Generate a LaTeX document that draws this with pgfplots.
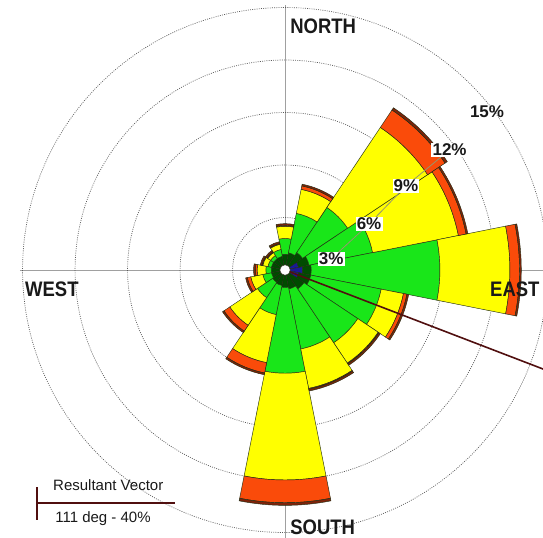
\documentclass[border=0pt]{standalone}
\usepackage{pgfplots}
\pgfplotsset{compat=1.18}
\usepackage{pgfplotstable}
\usepackage{graphicx}
\usepackage{fontspec}
\setmainfont{Liberation Sans}

% speed-class colours
\definecolor{wrBlue}{RGB}{25,25,150}
\definecolor{wrDkGreen}{RGB}{0,75,0}
\definecolor{wrGreen}{RGB}{25,230,25}
\definecolor{wrYellow}{RGB}{255,255,0}
\definecolor{wrOrange}{RGB}{250,75,10}
\definecolor{wrDkRed}{RGB}{125,35,10}
\definecolor{wrEdge}{RGB}{35,45,20}
\definecolor{wrVector}{RGB}{80,15,15}
\definecolor{wrRing}{RGB}{90,90,90}
\definecolor{wrCross}{RGB}{160,160,160}
\definecolor{wrText}{RGB}{25,25,25}

% one percent of frequency on the plot
\newcommand\pu{17.5bp}

% cumulative frequency (%) reached by each speed class, per direction
\pgfplotstableread{
dir    calm  blue  dkgreen green yellow orange dkred
0      0.30  0.30  0.90   1.80  2.50   2.55   2.65
22.5   0.30  0.30  1.00   3.30  4.70   4.90   5.00
45     0.30  0.30  1.20   4.30  9.80   11.00  11.15
67.5   0.30  0.80  1.40   5.10  10.10  10.55  10.65
90     0.30  1.00  1.50   8.85  12.85  13.40  13.50
112.5  0.30  0.80  1.50   5.60  6.90   7.10   7.20
135    0.30  0.30  1.30   5.00  6.40   6.45   6.55
157.5  0.30  0.30  1.10   4.60  6.90   6.95   7.05
180    0.30  0.30  1.00   5.90  12.00  13.30  13.45
202.5  0.30  0.30  0.90   2.60  5.40   6.00   6.10
225    0.30  0.30  0.85   1.90  3.80   4.20   4.30
247.5  0.30  0.30  0.80   1.30  2.00   2.20   2.30
270    0.30  0.30  0.80   1.10  1.60   1.70   1.80
292.5  0.30  0.30  0.80   1.00  1.30   1.35   1.45
315    0.30  0.30  0.80   1.00  1.20   1.25   1.35
337.5  0.30  0.30  0.80   1.20  1.50   1.55   1.65
}\rosedata

% one speed class: the point sits at the outer end of each petal; the
% marker draws the 22.5 deg annular sector from the class below (#1)
% out to this class (#2), filled with #3 (corners relative to the point)
\pgfplotsset{
  band/.style n args={3}{
    scatter, only marks,
    mark=*, mark size=0pt,
    mark options={draw opacity=0, fill opacity=0},
    point meta=explicit,
    visualization depends on={\thisrow{dir}\as\wrDir},
    visualization depends on={\thisrow{#1}\as\wrIn},
    visualization depends on={\thisrow{#2}\as\wrOut},
    scatter/@pre marker code/.code={%
      \pgfmathsetmacro\wrA{90-\wrDir}%
      \pgfmathparse{(\wrOut-\wrIn)>0.001 ? 1 : 0}%
      \ifdim\pgfmathresult pt>0.5pt
        \pgfmathsetmacro\wrXa{\wrIn*cos(\wrA+11.25)-\wrOut*cos(\wrA)}%
        \pgfmathsetmacro\wrYa{\wrIn*sin(\wrA+11.25)-\wrOut*sin(\wrA)}%
        \pgfmathsetmacro\wrXb{\wrOut*cos(\wrA-11.25)-\wrOut*cos(\wrA)}%
        \pgfmathsetmacro\wrYb{\wrOut*sin(\wrA-11.25)-\wrOut*sin(\wrA)}%
        \path[fill=#3, draw=wrEdge, line width=0.45bp, opacity=1]
          ({\wrXa*\pu},{\wrYa*\pu})
            arc[start angle={\wrA+11.25}, end angle={\wrA-11.25}, radius={\wrIn*\pu}]
          -- ({\wrXb*\pu},{\wrYb*\pu})
            arc[start angle={\wrA-11.25}, end angle={\wrA+11.25}, radius={\wrOut*\pu}]
          -- cycle;
      \fi
    },
    scatter/@post marker code/.code={},
  },
}
\tikzset{
  pct/.style={fill=white, inner sep=1.2bp, text=wrText,
    font=\fontsize{17bp}{19bp}\selectfont\bfseries},
  compass/.style={anchor=base west, inner sep=0pt, text=wrText,
    font=\fontsize{21bp}{23bp}\selectfont\bfseries},
  ring/.style={wrRing, line width=0.7bp, dash pattern=on 0.9bp off 1.3bp},
}

\begin{document}
\begin{tikzpicture}
\begin{axis}[
  x=\pu, y=\pu,
  xmin=-16.29, xmax=14.74, ymin=-15.31, ymax=15.43,
  hide axis,
  clip marker paths=true,
]
  % frequency rings and compass cross
  \draw[wrCross, line width=0.8bp] (axis cs:-15.15,0) -- (axis cs:15.6,0);
  \draw[wrCross, line width=0.8bp] (axis cs:0,-15.6) -- (axis cs:0,15.15);
  \draw[ring] (axis cs:0,0) circle[radius=3*\pu];
  \draw[ring] (axis cs:0,0) circle[radius=6*\pu];
  \draw[ring] (axis cs:0,0) circle[radius=9*\pu];
  \draw[ring] (axis cs:0,0) circle[radius=12*\pu];
  \draw[ring] (axis cs:0,0) circle[radius=15*\pu];

  % the petals, class by class
  \addplot[band={calm}{blue}{wrBlue}] table[
    x expr={\thisrow{blue}*sin(\thisrow{dir})},
    y expr={\thisrow{blue}*cos(\thisrow{dir})}, meta=dir] {\rosedata};
  \addplot[band={blue}{dkgreen}{wrDkGreen}] table[
    x expr={\thisrow{dkgreen}*sin(\thisrow{dir})},
    y expr={\thisrow{dkgreen}*cos(\thisrow{dir})}, meta=dir] {\rosedata};
  \addplot[band={dkgreen}{green}{wrGreen}] table[
    x expr={\thisrow{green}*sin(\thisrow{dir})},
    y expr={\thisrow{green}*cos(\thisrow{dir})}, meta=dir] {\rosedata};
  \addplot[band={green}{yellow}{wrYellow}] table[
    x expr={\thisrow{yellow}*sin(\thisrow{dir})},
    y expr={\thisrow{yellow}*cos(\thisrow{dir})}, meta=dir] {\rosedata};
  \addplot[band={yellow}{orange}{wrOrange}] table[
    x expr={\thisrow{orange}*sin(\thisrow{dir})},
    y expr={\thisrow{orange}*cos(\thisrow{dir})}, meta=dir] {\rosedata};
  \addplot[band={orange}{dkred}{wrDkRed}] table[
    x expr={\thisrow{dkred}*sin(\thisrow{dir})},
    y expr={\thisrow{dkred}*cos(\thisrow{dir})}, meta=dir] {\rosedata};

  % resultant vector: 111 deg, 40 %
  \addplot[wrVector, line width=1.6bp] coordinates {(0,0) (37.34,-14.33)};

  % calms
  \addplot[only marks, mark=*, mark size=5.2bp,
    mark options={fill=white, draw=wrEdge, line width=0.4bp}] coordinates {(0,0)};

  % ring labels
  \draw[color={rgb,255:red,150;green,150;blue,110}, line width=0.8bp]
    (axis cs:2.63,0.63) -- (axis cs:4.80,2.63) -- (axis cs:6.91,4.80) -- (axis cs:9.40,6.86);
  \node[pct] at (axis cs:2.63,0.63) {3\%};
  \node[pct] at (axis cs:4.80,2.63) {6\%};
  \node[pct] at (axis cs:6.91,4.80) {9\%};
  \node[pct] at (axis cs:9.40,6.86) {12\%};
  \node[pct, fill=none] at (axis cs:11.54,9.03) {15\%};

  % compass points
  \node[compass] at (axis cs:0.29,13.54) {\scalebox{0.88}[1]{NORTH}};
  \node[compass] at (axis cs:0.29,-15.09) {\scalebox{0.88}[1]{SOUTH}};
  \node[compass] at (axis cs:11.71,-1.54) {\scalebox{0.88}[1]{EAST}};
  \node[compass] at (axis cs:-14.86,-1.54) {\scalebox{0.88}[1]{WEST}};

  % resultant vector key
  \draw[wrVector, line width=1.2bp] (axis cs:-14.17,-12.40) -- (axis cs:-14.17,-14.29);
  \draw[wrVector, line width=1.2bp] (axis cs:-14.17,-13.31) -- (axis cs:-6.29,-13.31);
  \node[anchor=base west, inner sep=0pt, text=wrText, font=\fontsize{15bp}{17bp}\selectfont]
    at (axis cs:-13.26,-12.62) {Resultant Vector};
  \node[anchor=base west, inner sep=0pt, text=wrText, font=\fontsize{15bp}{17bp}\selectfont]
    at (axis cs:-13.14,-14.40) {111 deg - 40\%};
\end{axis}
\pgfresetboundingbox
\path (current axis.south west) rectangle (current axis.north east);
\end{tikzpicture}
\end{document}
